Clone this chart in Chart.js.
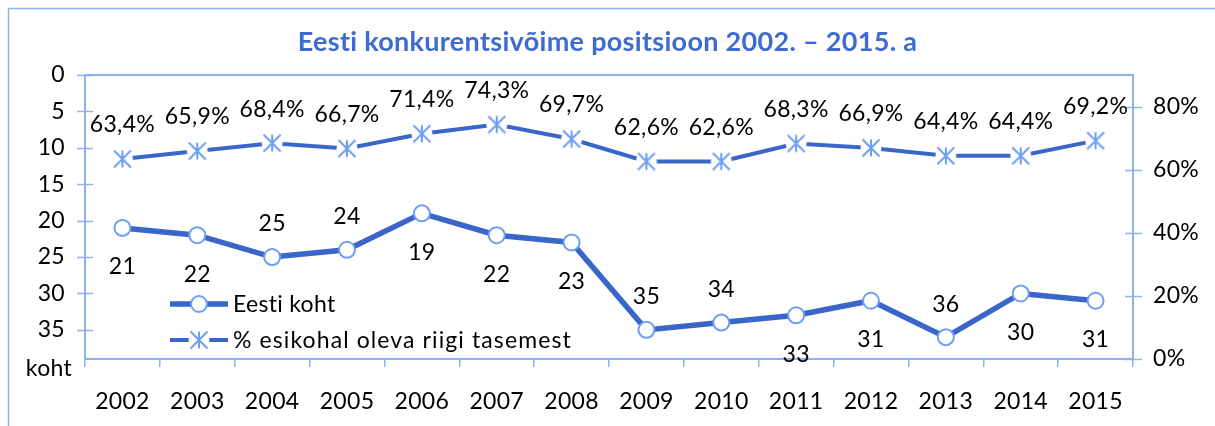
<!DOCTYPE html>
<html><head><meta charset="utf-8">
<script src="https://cdn.jsdelivr.net/npm/chart.js@4.4.1/dist/chart.umd.min.js"></script>
<style>html,body{margin:0;padding:0;background:#fff;}canvas{display:block;}</style>
</head><body>
<canvas id="c" width="1215" height="426"></canvas>
<script>
// ---- data ----
const years = ['2002','2003','2004','2005','2006','2007','2008','2009','2010','2011','2012','2013','2014','2015'];
const kohtValues = [21,22,25,24,19,22,23,35,34,33,31,36,30,31];
const pctValues = [63.4,65.9,68.4,66.7,71.4,74.3,69.7,62.6,62.6,68.3,66.9,64.4,64.4,69.2];
const leftTicks = [0,5,10,15,20,25,30,35];
const leftAxisName = 'koht';
const rightTicks = [0,20,40,60,80];
const kohtLabelSide = ['below','below','above','above','below','below','below','above','above','below','below','above','below','below'];
const seriesNames = ['Eesti koht','% esikohal oleva riigi tasemest'];
const titleText = 'Eesti konkurentsivõime positsioon 2002. – 2015. a';

// ---- style ----
const LINE = '#3A66CA';
const MARK = '#6E9EF2';
const AXIS = '#8DB2F2';
const TITLE = '#3D6BD0';
const FONT = 'Lato';

Chart.defaults.font.family = FONT;
Chart.defaults.color = '#000';

function makeStar(){
  const s = 24, c = document.createElement('canvas');
  c.width = s; c.height = s;
  const g = c.getContext('2d'), m = s/2, r = 8.5;
  g.fillStyle = '#fff';
  g.beginPath(); g.arc(m, m, 10.5, 0, Math.PI*2); g.fill();
  g.strokeStyle = MARK; g.lineWidth = 2; g.lineCap = 'butt';
  g.beginPath();
  g.moveTo(m, m-r); g.lineTo(m, m+r);
  g.moveTo(m-r, m-r); g.lineTo(m+r, m+r);
  g.moveTo(m+r, m-r); g.lineTo(m-r, m+r);
  g.stroke();
  return c;
}
const starImg = makeStar();

const fmtPct = v => v.toFixed(1).replace('.', ',') + '%';

const decorPlugin = {
  id: 'decor',
  beforeDraw(chart){
    const ctx = chart.ctx, W = chart.width, H = chart.height;
    // small letter spacing also disables Lato's "ti" ligature (Calibri-like look)
    ctx.letterSpacing = '0.3px';
    ctx.save();
    ctx.strokeStyle = AXIS; ctx.lineWidth = 1.5;
    ctx.beginPath();
    ctx.moveTo(8.5, H); ctx.lineTo(8.5, 8.5); ctx.lineTo(W, 8.5);
    ctx.stroke();
    ctx.restore();
  },
  afterDraw(chart){
    const ctx = chart.ctx, a = chart.chartArea;
    const y = chart.scales.y, y1 = chart.scales.y1;
    ctx.save();
    // top border of plot area
    ctx.strokeStyle = AXIS; ctx.lineWidth = 2;
    ctx.beginPath(); ctx.moveTo(a.left, a.top); ctx.lineTo(a.right, a.top); ctx.stroke();
    // cross tick marks
    ctx.lineWidth = 1.5;
    ctx.beginPath();
    y.ticks.forEach(t => {
      const py = Math.round(y.getPixelForValue(t.value)) + 0.5;
      ctx.moveTo(a.left - 8, py); ctx.lineTo(a.left + 8, py);
    });
    y1.ticks.forEach(t => {
      const py = Math.round(y1.getPixelForValue(t.value)) + 0.5;
      ctx.moveTo(a.right - 8, py); ctx.lineTo(a.right + 9, py);
    });
    ctx.stroke();
    // 'koht' axis label at the 40 position of the left axis
    ctx.fillStyle = '#000';
    ctx.font = '23px ' + FONT;
    ctx.textAlign = 'right'; ctx.textBaseline = 'middle';
    ctx.fillText(leftAxisName, a.left - 13, y.getPixelForValue(40) + 2);

    // data labels
    ctx.textAlign = 'center';
    const m0 = chart.getDatasetMeta(0), m1 = chart.getDatasetMeta(1);
    m0.data.forEach((p, i) => {
      const dy = kohtLabelSide[i] === 'above' ? -33 : 39;
      ctx.fillText(String(kohtValues[i]), p.x, p.y + dy);
    });
    m1.data.forEach((p, i) => {
      ctx.fillText(fmtPct(pctValues[i]), p.x, p.y - 34);
    });

    // legend inside plot area
    const lx = a.left + 85, lw = 58, ty1 = a.top + 229, ty2 = a.top + 265;
    ctx.strokeStyle = LINE; ctx.lineWidth = 5.5;
    ctx.beginPath(); ctx.moveTo(lx, ty1); ctx.lineTo(lx + lw, ty1); ctx.stroke();
    ctx.fillStyle = '#fff'; ctx.strokeStyle = MARK; ctx.lineWidth = 2;
    ctx.beginPath(); ctx.arc(lx + lw/2, ty1, 8, 0, Math.PI*2); ctx.fill(); ctx.stroke();
    ctx.strokeStyle = LINE; ctx.lineWidth = 4;
    ctx.beginPath(); ctx.moveTo(lx, ty2); ctx.lineTo(lx + lw, ty2); ctx.stroke();
    ctx.drawImage(starImg, lx + lw/2 - starImg.width/2, ty2 - starImg.height/2);
    ctx.fillStyle = '#000'; ctx.textAlign = 'left';
    ctx.fillText(seriesNames[0], lx + lw + 5, ty1 + 1);
    ctx.letterSpacing = '1.1px';
    ctx.fillText(seriesNames[1], lx + lw + 5, ty2 + 1);
    ctx.restore();
  }
};

new Chart(document.getElementById('c'), {
  type: 'line',
  data: {
    labels: years,
    datasets: [
      {
        label: seriesNames[0], data: kohtValues, yAxisID: 'y',
        borderColor: LINE, borderWidth: 5.5, tension: 0,
        pointRadius: 8, pointBackgroundColor: '#fff', pointBorderColor: MARK, pointBorderWidth: 2
      },
      {
        label: seriesNames[1], data: pctValues, yAxisID: 'y1',
        borderColor: LINE, borderWidth: 4, tension: 0,
        pointStyle: starImg, pointRadius: 10
      }
    ]
  },
  options: {
    responsive: false,
    animation: false,
    layout: { padding: 0 },
    plugins: {
      legend: { display: false },
      tooltip: { enabled: false },
      title: {
        display: true, text: titleText, color: TITLE,
        font: { family: FONT, size: 27, weight: 'bold', lineHeight: 1.2 },
        padding: { top: 26, bottom: 16.6 }
      }
    },
    scales: {
      x: {
        offset: true,
        grid: { offset: true, drawOnChartArea: false, drawTicks: true, tickLength: 8, color: AXIS, lineWidth: 1.5 },
        border: { display: true, color: AXIS, width: 2 },
        ticks: { font: { size: 23 }, padding: 21, maxRotation: 0, autoSkip: false },
        afterFit(s){ s.height = 67; }
      },
      y: {
        position: 'left', reverse: true, min: 0, max: 39,
        afterBuildTicks(s){ s.ticks = leftTicks.map(v => ({ value: v })); },
        grid: { drawOnChartArea: false, drawTicks: false },
        border: { display: true, color: AXIS, width: 2 },
        ticks: { font: { size: 23 }, padding: 20 },
        afterFit(s){ s.width = 85; }
      },
      y1: {
        position: 'right', min: 0, max: 90,
        afterBuildTicks(s){ s.ticks = rightTicks.map(v => ({ value: v })); },
        grid: { drawOnChartArea: false, drawTicks: false },
        border: { display: true, color: AXIS, width: 2 },
        ticks: { font: { size: 23 }, padding: 20, callback: v => v + '%' },
        afterFit(s){ s.width = 82; }
      }
    }
  },
  plugins: [decorPlugin]
});
</script>
</body></html>
